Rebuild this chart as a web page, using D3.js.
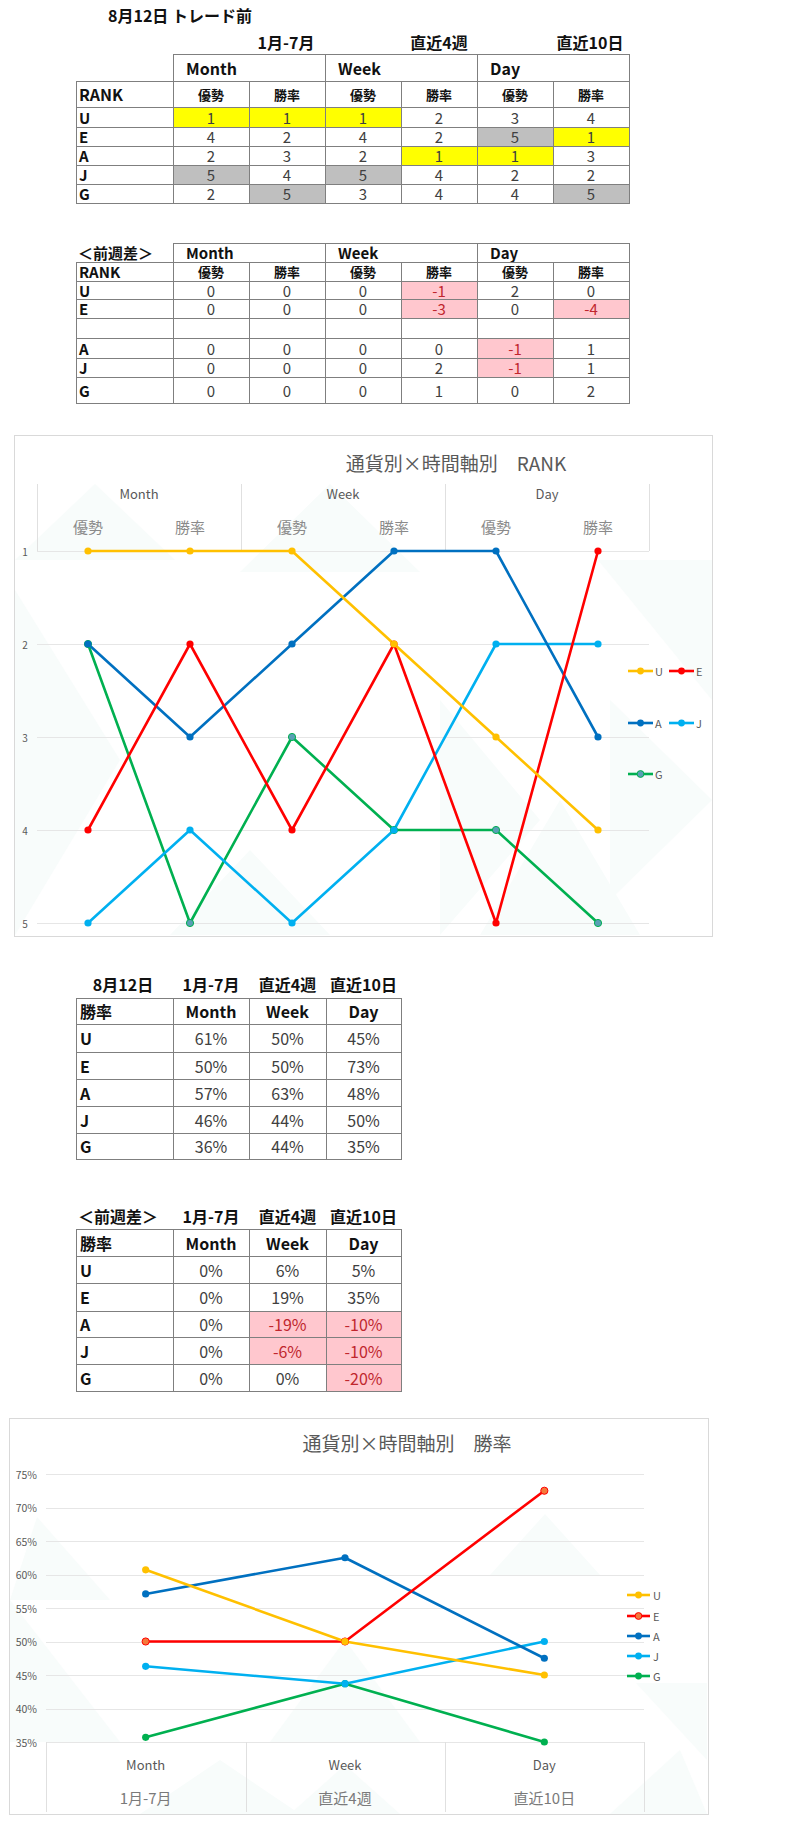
<!DOCTYPE html>
<html><head><meta charset="utf-8">
<script src="https://cdn.jsdelivr.net/npm/d3@7"></script>
<style>
body{margin:0;background:#fff}
svg text{font-family:"Noto Sans CJK JP","Noto Sans",sans-serif}
</style>
</head><body><svg id="c" width="800" height="1822"></svg>
<script>
// ---------- data ----------
const currencies = ["U","E","A","J","G"];
const groups = ["Month","Week","Day"];
const periods = ["1月-7月","直近4週","直近10日"];
const subCats = ["優勢","勝率"];
const rankU=[1,1,1,2,3,4];
const rankE=[4,2,4,2,5,1];
const rankA=[2,3,2,1,1,3];
const rankJ=[5,4,5,4,2,2];
const rankG=[2,5,3,4,4,5];
const rankDiffU=[0,0,0,-1,2,0];
const rankDiffE=[0,0,0,-3,0,-4];
const rankDiffA=[0,0,0,0,-1,1];
const rankDiffJ=[0,0,0,2,-1,1];
const rankDiffG=[0,0,0,1,0,2];
const winU=[60.7,50,45];
const winE=[50,50,72.5];
const winA=[57.1,62.5,47.5];
const winJ=[46.3,43.7,50];
const winG=[35.7,43.7,35];
const winDiffU=[0,6,5];
const winDiffE=[0,19,35];
const winDiffA=[0,-19,-10];
const winDiffJ=[0,-6,-10];
const winDiffG=[0,0,-20];
const rankTicks=[1,2,3,4,5];
const winTicks=[35,40,45,50,55,60,65,70,75];
const colors={U:"#FFC000",E:"#FF0000",A:"#0070C0",J:"#00B0F0",G:"#00B050"};

const rankSeries=[rankU,rankE,rankA,rankJ,rankG];
const rankDiffSeries=[rankDiffU,rankDiffE,rankDiffA,rankDiffJ,rankDiffG];
const winSeries=[winU,winE,winA,winJ,winG];
const winDiffSeries=[winDiffU,winDiffE,winDiffA,winDiffJ,winDiffG];

const svg=d3.select("#c");
const BORDER="#7f7f7f", TXT="#404040";

function cell(g,x0,x1,y0,y1,fill){
  g.append("rect").attr("x",x0+0.5).attr("y",y0+0.5).attr("width",x1-x0).attr("height",y1-y0)
   .attr("fill",fill||"none").attr("stroke",BORDER).attr("stroke-width",1);
}
function txt(g,x,y,s,o){
  o=o||{};
  return g.append("text").attr("x",x).attr("y",y).attr("dominant-baseline","central")
   .attr("text-anchor",o.anchor||"middle").attr("font-size",o.size||16)
   .attr("font-weight",o.weight||400).attr("fill",o.fill||TXT).text(s);
}
const hl=v=>v===1?"#FFFF00":(v===5?"#BFBFBF":"#fff");
const neg=v=>v<0?"#FFC7CE":"#fff";
const negTxt=v=>v<0?"#C0262D":TXT;

// ---------- Table 1 ----------
{
 const g=svg.append("g");
 const cx=[76,173,249,325,401,477,553,629];
 const ry=[54,81,107,127,146,165,184,203];
 txt(g,108,15,"8月12日 トレード前",{anchor:"start",weight:700,fill:"#111"});
 [286,439,590].forEach((x,i)=>txt(g,x,42,periods[i],{weight:700,fill:"#111"}));
 groups.forEach((gname,i)=>{
   cell(g,cx[1+2*i],cx[3+2*i],ry[0],ry[1]);
   txt(g,cx[1+2*i]+13,(ry[0]+ry[1])/2,gname,{anchor:"start",weight:700,fill:"#111"});
 });
 cell(g,cx[0],cx[1],ry[1],ry[2]);
 txt(g,79,(ry[1]+ry[2])/2,"RANK",{anchor:"start",weight:700,fill:"#111"});
 for(let c=0;c<6;c++){cell(g,cx[c+1],cx[c+2],ry[1],ry[2]);
   txt(g,(cx[c+1]+cx[c+2])/2,(ry[1]+ry[2])/2,subCats[c%2],{weight:700,size:13,fill:"#111"});}
 currencies.forEach((cur,r)=>{
   const y0=ry[2+r],y1=ry[3+r];
   cell(g,cx[0],cx[1],y0,y1);
   txt(g,79,(y0+y1)/2,cur,{anchor:"start",weight:700,fill:"#111",size:15});
   rankSeries[r].forEach((v,c)=>{
     cell(g,cx[c+1],cx[c+2],y0,y1,hl(v));
     txt(g,(cx[c+1]+cx[c+2])/2,(y0+y1)/2,v,{size:15});
   });
 });
}
// ---------- Table 2 ----------
{
 const g=svg.append("g");
 const cx=[76,173,249,325,401,477,553,629];
 const ry=[243,262,281,299,318,338,358,377,403];
 txt(g,78,(ry[0]+ry[1])/2,"＜前週差＞",{anchor:"start",weight:700,fill:"#111",size:15});
 groups.forEach((gname,i)=>{
   cell(g,cx[1+2*i],cx[3+2*i],ry[0],ry[1]);
   txt(g,cx[1+2*i]+13,(ry[0]+ry[1])/2,gname,{anchor:"start",weight:700,fill:"#111",size:15});
 });
 cell(g,cx[0],cx[1],ry[1],ry[2]);
 txt(g,79,(ry[1]+ry[2])/2,"RANK",{anchor:"start",weight:700,fill:"#111",size:15});
 for(let c=0;c<6;c++){cell(g,cx[c+1],cx[c+2],ry[1],ry[2]);
   txt(g,(cx[c+1]+cx[c+2])/2,(ry[1]+ry[2])/2,subCats[c%2],{weight:700,size:13,fill:"#111"});}
 const rowsSpec=[0,1,null,2,3,4];
 rowsSpec.forEach((r,k)=>{
   const y0=ry[2+k],y1=ry[3+k];
   cell(g,cx[0],cx[1],y0,y1);
   if(r===null){for(let c=0;c<6;c++)cell(g,cx[c+1],cx[c+2],y0,y1);return;}
   txt(g,79,(y0+y1)/2,currencies[r],{anchor:"start",weight:700,fill:"#111",size:15});
   rankDiffSeries[r].forEach((v,c)=>{
     cell(g,cx[c+1],cx[c+2],y0,y1,neg(v));
     txt(g,(cx[c+1]+cx[c+2])/2,(y0+y1)/2,v,{fill:negTxt(v),size:15});
   });
 });
}
// ---------- Table 3 & 4 ----------
function winTable(ry,headY,firstLabel,firstX,firstAnchor,series,fmtFill){
 const g=svg.append("g");
 const cx=[76,173,249,326,401];
 txt(g,firstX,headY,firstLabel,{anchor:firstAnchor,weight:700,fill:"#111"});
 periods.forEach((p,i)=>txt(g,(cx[i+1]+cx[i+2])/2,headY,p,{weight:700,fill:"#111"}));
 cell(g,cx[0],cx[1],ry[0],ry[1]);
 txt(g,80,(ry[0]+ry[1])/2,"勝率",{anchor:"start",weight:700,fill:"#111"});
 groups.forEach((gn,i)=>{cell(g,cx[i+1],cx[i+2],ry[0],ry[1]);
   txt(g,(cx[i+1]+cx[i+2])/2,(ry[0]+ry[1])/2,gn,{weight:700,fill:"#111"});});
 currencies.forEach((cur,r)=>{
   const y0=ry[1+r],y1=ry[2+r];
   cell(g,cx[0],cx[1],y0,y1);
   txt(g,80,(y0+y1)/2,cur,{anchor:"start",weight:700,fill:"#111"});
   series[r].forEach((v,c)=>{
     cell(g,cx[c+1],cx[c+2],y0,y1,fmtFill?neg(v):"#fff");
     txt(g,(cx[c+1]+cx[c+2])/2,(y0+y1)/2,Math.round(v)+"%",{fill:fmtFill?negTxt(v):TXT});
   });
 });
}
winTable([998,1024,1052,1079,1106,1133,1159],984,"8月12日",123,"middle",winSeries,false);
winTable([1229,1256,1283,1311,1337,1364,1391],1216,"＜前週差＞",78,"start",winDiffSeries,true);

// ---------- Chart 1 : RANK ----------
{
 const g=svg.append("g");
 g.append("rect").attr("x",14.5).attr("y",435.5).attr("width",698).attr("height",501)
  .attr("fill","#fff").attr("stroke","#d9d9d9");
 const deco=g.append("g").attr("fill","#f8fcfb");
 [[[95,484],[175,560],[15,560]],[[330,484],[420,572],[240,572]],[[15,590],[120,760],[15,935]],
  [[598,560],[712,700],[712,560]],[[610,700],[712,800],[610,900]],[[250,850],[330,935],[170,935]],
  [[440,700],[540,820],[440,935]],[[560,800],[640,935],[480,935]]]
   .forEach(p=>deco.append("polygon").attr("points",p.map(d=>d.join(",")).join(" ")));
 const x=d3.scaleBand().domain(d3.range(6)).range([37,649]);
 const xc=i=>x(i)+x.bandwidth()/2;
 const y=d3.scaleLinear().domain([1,5]).range([551,923]);
 txt(g,456,462,"通貨別×時間軸別　RANK",{size:19,fill:"#595959"});
 // grid
 g.selectAll(".gl").data(rankTicks).join("line").attr("x1",37).attr("x2",649)
  .attr("y1",d=>Math.round(y(d))+0.5).attr("y2",d=>Math.round(y(d))+0.5).attr("stroke","#e6e6e6");
 g.selectAll(".tk").data(rankTicks).join("text").attr("x",25).attr("y",d=>y(d))
  .attr("dominant-baseline","central").attr("text-anchor","middle").attr("font-size",10)
  .attr("fill","#595959").text(d=>d);
 // multi-level category header
 [0,2,4,6].forEach(i=>{const xx=i<6?x(i):x(5)+x.bandwidth();
   g.append("line").attr("x1",Math.round(xx)+0.5).attr("x2",Math.round(xx)+0.5)
    .attr("y1",484).attr("y2",551).attr("stroke","#e0e0e0");});
 groups.forEach((gn,i)=>txt(g,x(2*i)+x.bandwidth(),493,gn,{size:13,fill:"#595959"}).attr("font-family","'Noto Sans',sans-serif"));
 d3.range(6).forEach(i=>txt(g,xc(i),526,subCats[i%2],{size:15,fill:"#8a8a8a"}));
 const line=d3.line().x((d,i)=>xc(i)).y(d=>y(d));
 const order=[4,3,2,1,0];
 order.forEach(r=>{
   const cur=currencies[r];
   g.append("path").attr("d",line(rankSeries[r])).attr("fill","none")
    .attr("stroke",colors[cur]).attr("stroke-width",2.6).attr("stroke-linejoin","round");
 });
 order.forEach(r=>{
   const cur=currencies[r];
   g.selectAll(null).data(rankSeries[r]).join("circle").attr("cx",(d,i)=>xc(i)).attr("cy",d=>y(d))
    .attr("r",3.6).attr("fill",cur==="G"?"#5a9fb5":colors[cur]).attr("stroke",colors[cur]).attr("stroke-width",cur==="G"?1:0);
 });
 // legend
 const leg=[["U",628,671],["E",669,671],["A",628,723],["J",669,723],["G",628,774]];
 leg.forEach(([cur,lx,ly])=>{
   g.append("line").attr("x1",lx).attr("x2",lx+25).attr("y1",ly).attr("y2",ly)
    .attr("stroke",colors[cur]).attr("stroke-width",2.6);
   g.append("circle").attr("cx",lx+12.5).attr("cy",ly).attr("r",3.4)
    .attr("fill",cur==="G"?"#5a9fb5":colors[cur]).attr("stroke",colors[cur]).attr("stroke-width",cur==="G"?1:0);
   txt(g,lx+27,ly,cur,{anchor:"start",size:11,fill:"#595959"});
 });
}

// ---------- Chart 2 : 勝率 ----------
{
 const g=svg.append("g");
 g.append("rect").attr("x",9.5).attr("y",1418.5).attr("width",699).attr("height",396)
  .attr("fill","#fff").attr("stroke","#d9d9d9");
 const deco=g.append("g").attr("fill","#f8fcfb");
 [[[37,1517],[110,1600],[10,1600]],[[10,1600],[120,1742],[10,1742]],[[345,1640],[420,1742],[270,1742]],
  [[545,1514],[600,1575],[490,1575]],[[636,1683],[707,1760],[707,1683]],[[220,1760],[300,1814],[140,1814]],
  [[345,1765],[400,1814],[290,1814]],[[680,1750],[707,1814],[610,1814]]]
   .forEach(p=>deco.append("polygon").attr("points",p.map(d=>d.join(",")).join(" ")));
 const x=d3.scaleBand().domain(groups).range([46,644]);
 const xc=d=>x(d)+x.bandwidth()/2;
 const y=d3.scaleLinear().domain([35,75]).range([1742,1474]);
 txt(g,407,1442,"通貨別×時間軸別　勝率",{size:19,fill:"#595959"});
 g.selectAll(".gl").data(winTicks).join("line").attr("x1",46).attr("x2",644)
  .attr("y1",d=>Math.round(y(d))+0.5).attr("y2",d=>Math.round(y(d))+0.5).attr("stroke","#e6e6e6");
 g.selectAll(".tk").data(winTicks).join("text").attr("x",37).attr("y",d=>y(d))
  .attr("dominant-baseline","central").attr("text-anchor","end").attr("font-size",10.5)
  .attr("font-family","'Noto Sans',sans-serif").attr("fill","#595959").text(d=>d+"%");
 [46,246,445,644].forEach(xx=>g.append("line").attr("x1",xx+0.5).attr("x2",xx+0.5)
   .attr("y1",1742).attr("y2",1812).attr("stroke","#e0e0e0"));
 groups.forEach((gn,i)=>{
   txt(g,xc(gn),1764,gn,{size:13,fill:"#595959"}).attr("font-family","'Noto Sans',sans-serif");
   txt(g,xc(gn),1797,periods[i],{size:15,fill:"#7a7a7a"});
 });
 const line=d3.line().x((d,i)=>xc(groups[i])).y(d=>y(d));
 const order=[4,3,2,1,0];
 order.forEach(r=>{
   const cur=currencies[r];
   g.append("path").attr("d",line(winSeries[r])).attr("fill","none")
    .attr("stroke",colors[cur]).attr("stroke-width",2.6).attr("stroke-linejoin","round");
 });
 order.forEach(r=>{
   const cur=currencies[r];
   g.selectAll(null).data(winSeries[r]).join("circle").attr("cx",(d,i)=>xc(groups[i])).attr("cy",d=>y(d))
    .attr("r",3.6).attr("fill",cur==="E"?"#F4793B":colors[cur]).attr("stroke",colors[cur]).attr("stroke-width",cur==="E"?1:0);
 });
 const ly=[1595,1616,1636,1656,1676];
 currencies.forEach((cur,i)=>{
   g.append("line").attr("x1",627).attr("x2",650).attr("y1",ly[i]).attr("y2",ly[i])
    .attr("stroke",colors[cur]).attr("stroke-width",2.6);
   g.append("circle").attr("cx",638.5).attr("cy",ly[i]).attr("r",3.4)
    .attr("fill",cur==="E"?"#F4793B":colors[cur]).attr("stroke",colors[cur]).attr("stroke-width",cur==="E"?1:0);
   txt(g,653,ly[i],cur,{anchor:"start",size:11,fill:"#595959"});
 });
}
</script></body></html>
